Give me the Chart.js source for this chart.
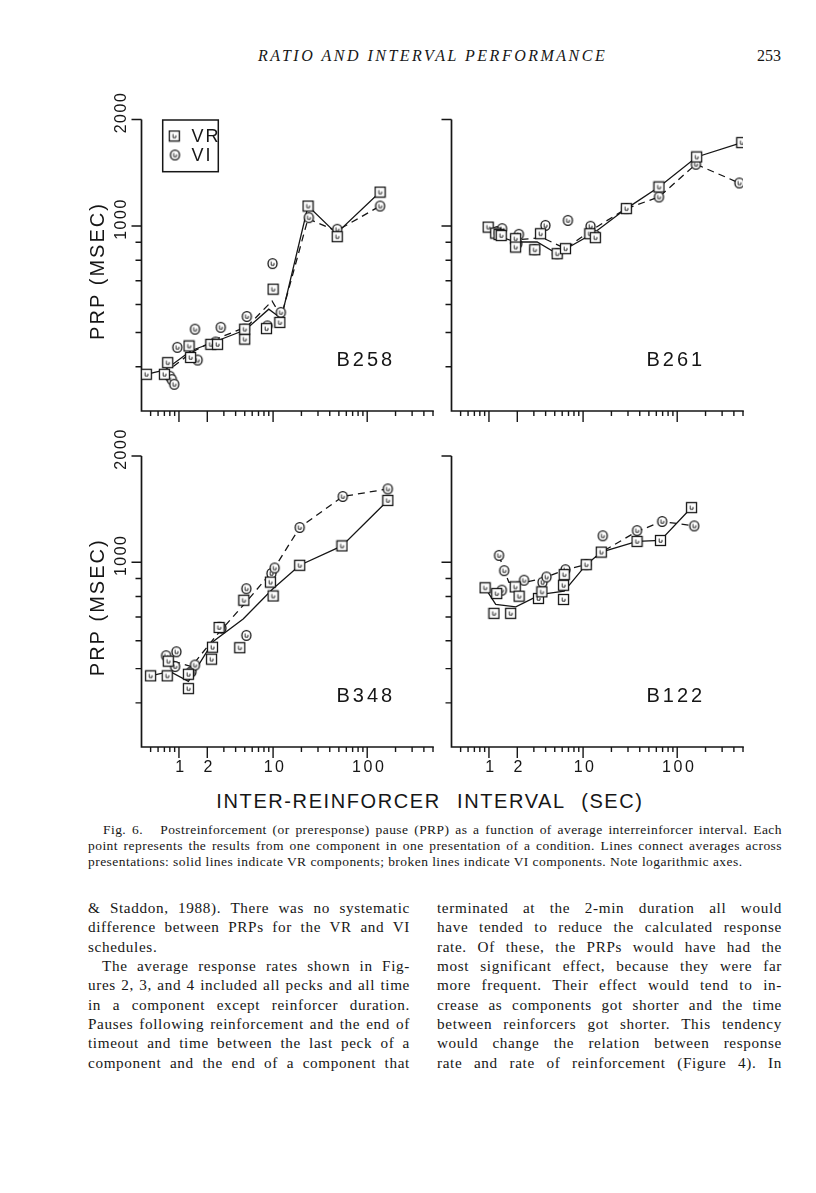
<!DOCTYPE html>
<html>
<head>
<meta charset="utf-8">
<script src="https://cdn.jsdelivr.net/npm/chart.js@4.4.1/dist/chart.umd.min.js"></script>
<style>
html, body { margin: 0; padding: 0; background: #fff; }
#page { position: relative; width: 816px; height: 1193px; background: #fff; overflow: hidden; color: #161616; }
canvas { position: absolute; }
.t { position: absolute; white-space: nowrap; }
.serif { font-family: "Liberation Serif", "DejaVu Serif", serif; }
.plot { font-family: "Liberation Sans", Arial, sans-serif; }
.col { position: absolute; font-family: "Liberation Serif", serif; font-size: 15.2px; line-height: 19.35px; letter-spacing: 0.65px; word-spacing: -1.5px; }
.col div { white-space: nowrap; }
.col .j { white-space: normal; text-align: justify; text-align-last: justify; }
.cap { position: absolute; left: 88px; width: 694px; font-family: "Liberation Serif", serif; font-size: 13.5px; line-height: 16px; letter-spacing: 0.45px; }
.cap div { white-space: normal; text-align: justify; text-align-last: justify; }
</style>
</head>
<body>
<div id="page">
  <div class="t serif" style="left:258px; top:47px; font-size:16px; font-style:italic; letter-spacing:2.5px;">RATIO AND INTERVAL PERFORMANCE</div>
  <div class="t serif" style="left:757px; top:47px; font-size:16px;">253</div>

  <canvas id="b258" width="375" height="345" style="left:70px; top:85px;"></canvas>
  <canvas id="b261" width="375" height="345" style="left:380px; top:85px;"></canvas>
  <canvas id="b348" width="375" height="370" style="left:70px; top:420px;"></canvas>
  <canvas id="b122" width="375" height="370" style="left:380px; top:420px;"></canvas>

  <div class="t plot" style="left:0; width:860px; text-align:center; top:790px; font-size:20px; letter-spacing:1.6px; word-spacing:9px;">INTER-REINFORCER INTERVAL (SEC)</div>

  <div class="cap" style="top:822px;">
    <div style="padding-left:15px;">Fig. 6.&nbsp;&nbsp; Postreinforcement (or preresponse) pause (PRP) as a function of average interreinforcer interval. Each</div>
    <div>point represents the results from one component in one presentation of a condition. Lines connect averages across</div>
    <div style="text-align-last:left;">presentations: solid lines indicate VR components; broken lines indicate VI components. Note logarithmic axes.</div>
  </div>

  <div class="col" style="left:88px; top:898px; width:322px;">
    <div class="j">&amp; Staddon, 1988). There was no systematic</div>
    <div class="j">difference between PRPs for the VR and VI</div>
    <div>schedules.</div>
    <div class="j" style="padding-left:14px;">The average response rates shown in Fig-</div>
    <div class="j">ures 2, 3, and 4 included all pecks and all time</div>
    <div class="j">in a component except reinforcer duration.</div>
    <div class="j">Pauses following reinforcement and the end of</div>
    <div class="j">timeout and time between the last peck of a</div>
    <div class="j">component and the end of a component that</div>
  </div>
  <div class="col" style="left:437px; top:898px; width:345px;">
    <div class="j">terminated at the 2-min duration all would</div>
    <div class="j">have tended to reduce the calculated response</div>
    <div class="j">rate. Of these, the PRPs would have had the</div>
    <div class="j">most significant effect, because they were far</div>
    <div class="j">more frequent. Their effect would tend to in-</div>
    <div class="j">crease as components got shorter and the time</div>
    <div class="j">between reinforcers got shorter. This tendency</div>
    <div class="j">would change the relation between response</div>
    <div class="j">rate and rate of reinforcement (Figure 4). In</div>
  </div>
</div>

<script>
const INK = '#161616';

// axis ranges and ticks (log axes)
const xMin = 0.4, xMax = 500;
const yMin = 300, yMax = 2000;
const xMajorTicks = [1, 2, 10, 100];
const xTickLabels = ['1', '2', '10', '100'];
const xMinorTicks = [0.5, 0.6, 0.7, 0.8, 0.9, 3, 4, 5, 6, 7, 8, 9, 20, 30, 40, 50, 60, 70, 80, 90, 200, 300, 400, 500];
const yMajorTicks = [1000, 2000];
const yTickLabels = ['1000', '2000'];
const yMinorTicks = [400, 500, 600, 700, 800, 900];

// B258
const b258VrX = [0.45, 0.70, 0.76, 1.28, 1.33, 2.18, 2.57, 5.0, 5.0, 8.5, 10, 11.8, 23.5, 48, 137];
const b258VrY = [381, 381, 411, 458, 425, 463, 463, 479, 511, 513, 663, 534, 1139, 933, 1247];
const b258ViX = [0.80, 0.84, 0.89, 0.96, 1.48, 1.58, 2.45, 2.78, 5.26, 5.0, 8.7, 9.86, 12.1, 24, 48, 137];
const b258ViY = [376, 368, 357, 454, 511, 418, 470, 517, 555, 511, 522, 783, 570, 1056, 979, 1139];
const b258VrMeanX = [0.45, 0.71, 1.34, 2.22, 5.1, 9.0, 12.2, 23.5, 47, 137];
const b258VrMeanY = [381, 392, 444, 467, 509, 582, 548, 1139, 953, 1247];
const b258ViMeanX = [0.87, 1.36, 2.57, 5.3, 9.75, 12.2, 23.5, 47, 137];
const b258ViMeanY = [401, 439, 481, 520, 614, 555, 1049, 968, 1139];

// B261
const b261VrX = [0.98, 1.18, 1.28, 1.35, 1.92, 1.92, 3.53, 3.07, 5.3, 6.5, 11.8, 13.5, 28.8, 64, 161, 485];
const b261VrY = [993, 955, 946, 940, 921, 872, 951, 857, 835, 863, 951, 927, 1120, 1289, 1567, 1721];
const b261ViX = [1.22, 1.38, 2.08, 2.0, 3.98, 6.9, 3.07, 5.3, 12, 13.5, 28.8, 64, 158, 457];
const b261ViY = [965, 983, 947, 891, 1004, 1037, 857, 835, 998, 941, 1120, 1208, 1495, 1323];
const b261VrMeanX = [0.98, 1.35, 1.92, 3.25, 5.3, 13.0, 28.8, 64, 161, 485];
const b261VrMeanY = [993, 931, 901, 901, 835, 955, 1120, 1289, 1567, 1721];
const b261ViMeanX = [1.28, 2.03, 3.68, 6.5, 11.9, 28.8, 64, 158, 457];
const b261ViMeanY = [962, 915, 927, 863, 968, 1120, 1208, 1495, 1323];

// B348
const b348VrX = [0.50, 0.75, 0.77, 1.26, 1.26, 2.22, 2.27, 2.67, 4.43, 4.89, 9.37, 10, 19.2, 53.9, 165.6];
const b348VrY = [477, 477, 525, 482, 439, 532, 575, 654, 573, 781, 879, 803, 981, 1113, 1497];
const b348ViX = [0.73, 0.94, 0.91, 1.36, 1.48, 1.30, 2.83, 2.70, 5.2, 5.2, 9.6, 10.4, 19.2, 55, 165.6];
const b348ViY = [544, 558, 507, 490, 512, 486, 651, 655, 621, 842, 930, 964, 1255, 1536, 1614];
const b348VrMeanX = [0.50, 0.80, 1.26, 2.31, 4.81, 9.84, 19.2, 53.9, 165.6];
const b348VrMeanY = [477, 491, 460, 597, 691, 839, 981, 1113, 1497];
const b348ViMeanX = [0.87, 1.36, 2.5, 5.2, 9.84, 19.2, 55, 165.6];
const b348ViMeanY = [525, 507, 621, 773, 944, 1255, 1536, 1614];

// B122
const b122VrX = [0.91, 1.21, 1.13, 1.70, 1.90, 2.09, 3.36, 3.65, 6.2, 6.2, 6.3, 10.8, 15.6, 37.4, 66.4, 142];
const b122VrY = [847, 816, 717, 717, 852, 802, 790, 825, 785, 861, 923, 985, 1069, 1146, 1153, 1429];
const b122ViX = [1.28, 1.45, 1.37, 2.36, 3.71, 4.09, 6.5, 10.8, 16.2, 37.4, 69.2, 151.6];
const b122ViY = [1046, 947, 834, 890, 878, 909, 953, 985, 1189, 1230, 1305, 1268];
const b122VrMeanX = [0.91, 1.18, 1.93, 3.56, 6.3, 10.8, 15.6, 37.4, 66.4, 142];
const b122VrMeanY = [847, 760, 748, 811, 829, 985, 1069, 1146, 1153, 1429];
const b122ViMeanX = [1.28, 1.45, 1.63, 2.46, 3.87, 6.5, 10.8, 16.2, 37.4, 69.2, 151.6];
const b122ViMeanY = [1046, 947, 878, 878, 904, 953, 985, 1074, 1223, 1305, 1268];

function pairs(xs, ys) { return xs.map((x, i) => ({ x: x, y: ys[i] })); }

// hollow plotter symbols with the little inner mark
function marker(kind) {
  const c = document.createElement('canvas');
  c.width = 13; c.height = 13;
  const g = c.getContext('2d');
  g.fillStyle = '#fff'; g.strokeStyle = INK; g.lineWidth = 1.3;
  if (kind === 'sq') { g.fillRect(1.5, 1.5, 10, 10); g.strokeRect(1.5, 1.5, 10, 10); }
  else { g.beginPath(); g.ellipse(6.5, 6.5, 4.5, 4.9, 0, 0, Math.PI * 2); g.fill(); g.stroke(); }
  g.lineWidth = 0.9;
  g.beginPath(); g.moveTo(5.2, 4.5); g.lineTo(5.2, 8.2); g.lineTo(8, 8.2); g.lineTo(8, 5.8); g.stroke();
  return c;
}
const SQ = marker('sq');
const CI = marker('ci');

function label(ctx, text, x, y, font, spacing, rot) {
  ctx.save();
  ctx.translate(x, y);
  if (rot) ctx.rotate(-Math.PI / 2);
  ctx.font = font;
  ctx.letterSpacing = spacing;
  ctx.textAlign = 'center';
  ctx.textBaseline = 'middle';
  ctx.fillStyle = INK;
  ctx.fillText(text, 0, 0);
  ctx.restore();
}

const framePlugin = {
  id: 'frame',
  beforeDatasetsDraw(chart, args, o) {
    const { ctx, chartArea: a, scales: { x, y } } = chart;
    ctx.save();
    ctx.strokeStyle = INK;
    ctx.lineWidth = 1.7;
    ctx.beginPath();
    ctx.moveTo(a.left, a.top); ctx.lineTo(a.left, a.bottom); ctx.lineTo(a.right + 0.8, a.bottom);
    ctx.stroke();
    ctx.lineWidth = 1.4;
    ctx.beginPath();
    xMajorTicks.forEach(v => { const p = x.getPixelForValue(v); ctx.moveTo(p, a.bottom); ctx.lineTo(p, a.bottom + 11); });
    xMinorTicks.forEach(v => { const p = x.getPixelForValue(v); ctx.moveTo(p, a.bottom); ctx.lineTo(p, a.bottom + 5); });
    yMajorTicks.forEach(v => { const p = y.getPixelForValue(v); ctx.moveTo(a.left, p); ctx.lineTo(a.left - 10, p); });
    yMinorTicks.forEach(v => { const p = y.getPixelForValue(v); ctx.moveTo(a.left, p); ctx.lineTo(a.left - 6, p); });
    ctx.stroke();
    ctx.restore();
  },
  afterDraw(chart, args, o) {
    const { ctx, chartArea: a, scales: { x, y } } = chart;
    if (o.yLabels) {
      yMajorTicks.forEach((v, i) => label(ctx, yTickLabels[i], a.left - 20, y.getPixelForValue(v) - 7, '16px "Liberation Sans"', '1.5px', true));
      label(ctx, 'PRP (MSEC)', a.left - 43.5, y.getPixelForValue(1000) + 45, '20px "Liberation Sans"', '2px', true);
    }
    if (o.xLabels) {
      xMajorTicks.forEach((v, i) => label(ctx, xTickLabels[i], x.getPixelForValue(v) + 2, a.bottom + 21, '16px "Liberation Sans"', '2.5px', false));
    }
    ctx.save();
    ctx.font = '20px "Liberation Sans"';
    ctx.letterSpacing = '3px';
    ctx.fillStyle = INK;
    ctx.textBaseline = 'middle';
    ctx.fillText(o.name, a.left + 195, a.bottom - 51);
    ctx.restore();
    if (o.legend) {
      ctx.save();
      ctx.strokeStyle = INK; ctx.lineWidth = 1.5;
      ctx.strokeRect(a.left + 21.2, a.top + 0.5, 55.6, 51.7);
      ctx.drawImage(SQ, a.left + 32.8 - 6.5, a.top + 16.5 - 6.5);
      ctx.drawImage(CI, a.left + 33.5 - 6.5, a.top + 35.5 - 6.5);
      ctx.font = '18px "Liberation Sans"';
      ctx.letterSpacing = '2px';
      ctx.fillStyle = INK;
      ctx.textBaseline = 'middle';
      ctx.fillText('VR', a.left + 50, a.top + 17.5);
      ctx.fillText('VI', a.left + 50, a.top + 36.5);
      ctx.restore();
    }
  }
};

function makePanel(id, vrX, vrY, viX, viY, vrMeanX, vrMeanY, viMeanX, viMeanY, pad, opts) {
  return new Chart(document.getElementById(id), {
    type: 'scatter',
    data: {
      datasets: [
        { data: pairs(vrX, vrY), pointStyle: SQ, pointRadius: 6, pointHoverRadius: 6 },
        { data: pairs(viX, viY), pointStyle: CI, pointRadius: 6, pointHoverRadius: 6 },
        { data: pairs(vrMeanX, vrMeanY), showLine: true, borderColor: INK, borderWidth: 1.3, pointRadius: 0 },
        { data: pairs(viMeanX, viMeanY), showLine: true, borderColor: INK, borderWidth: 1.3, borderDash: [7, 5], pointRadius: 0 }
      ]
    },
    options: {
      responsive: false,
      animation: false,
      devicePixelRatio: 1,
      layout: { padding: pad },
      plugins: { legend: { display: false }, tooltip: { enabled: false }, frame: opts },
      scales: {
        x: { type: 'logarithmic', min: xMin, max: xMax, display: false },
        y: { type: 'logarithmic', min: yMin, max: yMax, display: false }
      }
    },
    plugins: [framePlugin]
  });
}

const padTop = { left: 71.5, top: 34.5, right: 12, bottom: 19 };
const padBottom = { left: 71.5, top: 36, right: 12, bottom: 43 };

makePanel('b258', b258VrX, b258VrY, b258ViX, b258ViY, b258VrMeanX, b258VrMeanY, b258ViMeanX, b258ViMeanY, padTop,
  { name: 'B258', yLabels: true, xLabels: false, legend: true });
makePanel('b261', b261VrX, b261VrY, b261ViX, b261ViY, b261VrMeanX, b261VrMeanY, b261ViMeanX, b261ViMeanY, padTop,
  { name: 'B261', yLabels: false, xLabels: false, legend: false });
makePanel('b348', b348VrX, b348VrY, b348ViX, b348ViY, b348VrMeanX, b348VrMeanY, b348ViMeanX, b348ViMeanY, padBottom,
  { name: 'B348', yLabels: true, xLabels: true, legend: false });
makePanel('b122', b122VrX, b122VrY, b122ViX, b122ViY, b122VrMeanX, b122VrMeanY, b122ViMeanX, b122ViMeanY, padBottom,
  { name: 'B122', yLabels: false, xLabels: true, legend: false });
</script>
</body>
</html>
